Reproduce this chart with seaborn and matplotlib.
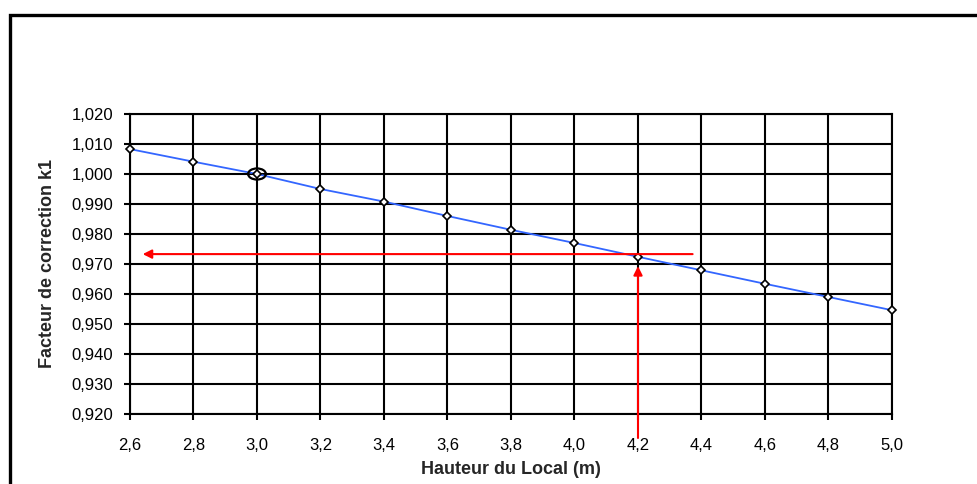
import numpy as np
import pandas as pd
import matplotlib
matplotlib.use("Agg")
import matplotlib.pyplot as plt
from matplotlib.patches import Ellipse, Rectangle
import seaborn as sns

# ---- data ----
heights = ["2,6", "2,8", "3,0", "3,2", "3,4", "3,6", "3,8", "4,0", "4,2", "4,4", "4,6", "4,8", "5,0"]
k1 = [1.0083, 1.0041, 1.0000, 0.9950, 0.9908, 0.9860, 0.9814, 0.9770, 0.9724, 0.9679, 0.9634, 0.9590, 0.9546]
y_ticks = [0.920, 0.930, 0.940, 0.950, 0.960, 0.970, 0.980, 0.990, 1.000, 1.010, 1.020]
y_tick_labels = ["0,920", "0,930", "0,940", "0,950", "0,960", "0,970", "0,980", "0,990", "1,000", "1,010", "1,020"]
x_label = "Hauteur du Local (m)"
y_label = "Facteur de correction k1"
read_value = 0.9733      # horizontal red arrow level
read_height = "4,2"      # vertical red arrow position
ref_height = "3,0"       # circled reference point

df = pd.DataFrame({"h": pd.Categorical(heights, categories=heights, ordered=True), "k": k1})

sns.set_style("white")
plt.rcParams["font.family"] = ["Liberation Sans", "DejaVu Sans"]

W, H = 978, 484
fig = plt.figure(figsize=(W / 100, H / 100), dpi=100)
ax = fig.add_axes([130 / W, (H - 414) / H, (892 - 130) / W, (414 - 114) / H])

sns.lineplot(data=df, x="h", y="k", ax=ax, color="#3366FF", lw=1.3, sort=False,
             marker="D", markersize=4, markerfacecolor="white",
             markeredgecolor="black", markeredgewidth=1.2, zorder=4, clip_on=False)

ax.set_xlim(0, len(heights) - 1)
ax.set_ylim(y_ticks[0], y_ticks[-1])
ax.set_yticks(y_ticks)
ax.set_yticklabels(y_tick_labels)
ax.set_xticks(range(len(heights)))
ax.set_xticklabels(heights)

ax.grid(True, color="black", lw=1.5)
ax.set_axisbelow(True)
for s in ax.spines.values():
    s.set_color("black")
    s.set_linewidth(1.5)

ax.tick_params(axis="both", which="both", direction="out", length=4, width=1.5,
               color="black", labelsize=12, labelcolor="black",
               left=True, bottom=True)
ax.tick_params(axis="y", pad=8)
ax.tick_params(axis="x", pad=13)

ax.set_xlabel(x_label, fontsize=13, fontweight="bold")
ax.set_ylabel(y_label, fontsize=13, fontweight="bold")
ax.xaxis.set_label_coords(0.5, -0.155)
ax.yaxis.set_label_coords(-0.097, 0.5)

# red reading arrows
xi = heights.index(read_height)
ax.annotate("", xy=(0.2, read_value), xytext=(xi + 0.86, read_value),
            arrowprops=dict(arrowstyle="-|>", color="red", lw=1.5,
                            mutation_scale=13, shrinkA=0, shrinkB=0),
            annotation_clip=False, zorder=5)
ax.annotate("", xy=(xi, 0.9693), xytext=(xi, 0.912),
            arrowprops=dict(arrowstyle="-|>", color="red", lw=1.5,
                            mutation_scale=13, shrinkA=0, shrinkB=0),
            annotation_clip=False, zorder=5)

# circled reference point
ri = heights.index(ref_height)
ax.add_patch(Ellipse((ri, 1.0), width=0.28, height=0.0037, fill=False,
                     ec="black", lw=1.6, zorder=6))

# outer frame (top and left visible)
fig.add_artist(Rectangle((9.5 / W, -0.2), 1.5, 1.2 - 15.5 / H,
                         transform=fig.transFigure, fill=False,
                         ec="black", lw=2.4))

fig.savefig("out.png", dpi=100)
